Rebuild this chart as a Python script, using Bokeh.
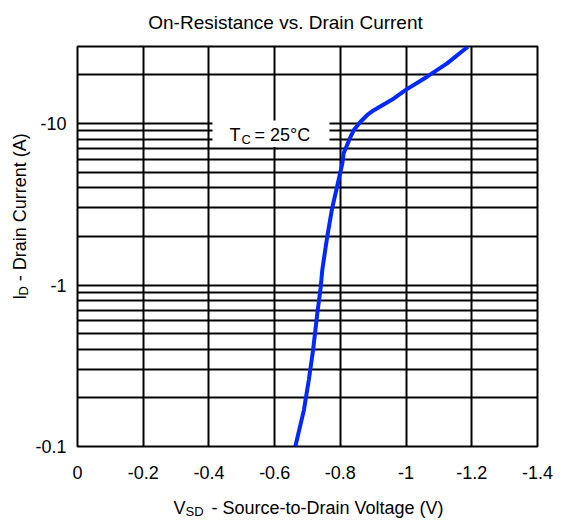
import math
from bokeh.plotting import figure
from bokeh.layouts import column, row
from bokeh.models import (Range1d, FixedTicker, CustomJSTickFormatter, Label,
                          BoxAnnotation, ColumnDataSource)
from bokeh.embed import file_html
from bokeh.resources import INLINE

# ---- data ----
# Source-to-drain voltage (V)
vsd = [-0.663, -0.689, -0.704, -0.717, -0.730, -0.740, -0.745, -0.760, -0.775,
       -0.790, -0.806, -0.810, -0.831, -0.841, -0.862, -0.882, -0.902, -0.963,
       -0.998, -1.064, -1.125, -1.188]
# Drain current magnitude (A); axis labels carry the minus sign
i_d = [0.10, 0.168, 0.258, 0.396, 0.671, 0.958, 1.24, 1.99, 2.99,
       4.06, 5.67, 6.54, 8.28, 9.12, 10.3, 11.3, 12.1, 14.3,
       16.1, 19.5, 23.6, 29.9]

x_ticks = [0, -0.2, -0.4, -0.6, -0.8, -1.0, -1.2, -1.4]
y_major = [0.1, 1, 10]
y_minor = [0.2, 0.3, 0.4, 0.5, 0.6, 0.7, 0.8, 0.9,
           2, 3, 4, 5, 6, 7, 8, 9, 20, 30]

FONT = "Liberation Sans"
W, H = 562, 524
TOP_H = 42          # title strip
MAIN_H = 450        # plot strip
BOT_H = H - TOP_H - MAIN_H
YLAB_W = 31
FL, FR, FT, FB = 77, 537, 46, 446     # frame edges in page pixels
X0, X1 = 0.0, -1.4
Y0, Y1 = 0.1, 30.0
DY = 7              # baseline correction of Label placement


def fx(px):
    return X0 + (px - FL) / (FR - FL) * (X1 - X0)


def fy(py):
    return 10 ** (math.log10(Y0) + (FB - py) / (FB - FT) * (math.log10(Y1) - math.log10(Y0)))


def text_fig(w, h):
    f = figure(width=w, height=h, x_range=Range1d(0, w), y_range=Range1d(h, 0),
               output_backend="svg", toolbar_location=None,
               x_axis_location=None, y_axis_location=None, min_border=0)
    f.grid.visible = False
    f.outline_line_color = None
    f.background_fill_color = "white"
    f.border_fill_color = "white"
    return f


def lab(f, text, x, y, size, align="left", angle=0.0):
    f.add_layout(Label(x=x, y=y, text=text, text_font=FONT, text_font_size=size,
                       text_color="black", text_align=align,
                       text_baseline="alphabetic", angle=angle))


# ---- main plot ----
main_w = W - YLAB_W
p = figure(width=main_w, height=MAIN_H, y_axis_type="log",
           x_range=Range1d(X0, X1), y_range=Range1d(Y0, Y1),
           output_backend="svg", toolbar_location=None,
           min_border_left=FL - YLAB_W, min_border_right=W - FR,
           min_border_top=FT - TOP_H, min_border_bottom=MAIN_H - (FB - TOP_H))
p.background_fill_color = "white"
p.border_fill_color = "white"
p.outline_line_color = "black"
p.outline_line_width = 2

xt = FixedTicker(ticks=x_ticks)
yt = FixedTicker(ticks=y_major, minor_ticks=y_minor)
p.xaxis.ticker = xt
p.xgrid.ticker = xt
p.yaxis.ticker = yt
p.ygrid.ticker = yt

p.xaxis.formatter = CustomJSTickFormatter(
    code="return tick == 0 ? '0' : (Math.round(tick*10)/10).toString();")
p.yaxis.formatter = CustomJSTickFormatter(code="return '-' + tick;")

for ax in (p.xaxis, p.yaxis):
    ax.axis_line_color = None
    ax.major_tick_line_color = None
    ax.minor_tick_line_color = None
    ax.major_tick_out = 0
    ax.major_tick_in = 0
    ax.minor_tick_out = 0
    ax.minor_tick_in = 0
    ax.major_label_text_font = FONT
    ax.major_label_text_font_size = "18px"
    ax.major_label_text_color = "black"
p.xaxis.major_label_standoff = 19
p.yaxis.major_label_standoff = 11

p.xgrid.grid_line_color = "black"
p.xgrid.grid_line_width = 2
p.ygrid.grid_line_color = "black"
p.ygrid.grid_line_width = 2
p.ygrid.minor_grid_line_color = "black"
p.ygrid.minor_grid_line_width = 2

src = ColumnDataSource(dict(v=vsd, i=i_d))
p.line("v", "i", source=src, line_color="#0028ff", line_width=4)

# white box behind the temperature note
p.add_layout(BoxAnnotation(left=fx(212), right=fx(329), top=fy(120), bottom=fy(146.5),
                           fill_color="white", fill_alpha=1.0, line_color=None,
                           level="annotation"))
# temperature note (inside the frame)
for txt, px, py, size in [("T", 229, 141.5, "18px"), ("C", 241, 145.5, "13px"),
                          ("= 25°C", 254, 141.5, "18px")]:
    p.add_layout(Label(x=fx(px), y=fy(py - DY), text=txt, text_font=FONT,
                       text_font_size=size, text_color="black",
                       text_baseline="alphabetic"))

# ---- title strip ----
top = text_fig(W, TOP_H)
lab(top, "On-Resistance vs. Drain Current", 285, 28.5 - DY, "19px", align="center")

# ---- y-axis title strip (rotated text; baseline offset acts along x) ----
yl = text_fig(YLAB_W, MAIN_H)
lab(yl, "I", 26 - DY, 327 - TOP_H, "18px", angle=math.pi / 2)
lab(yl, "D", 30 - DY, 322 - TOP_H, "13px", angle=math.pi / 2)
lab(yl, "- Drain Current (A)", 26 - DY, 306 - TOP_H, "18px", angle=math.pi / 2)

# ---- x-axis title strip ----
y_off = TOP_H + MAIN_H
bot = text_fig(W, BOT_H)
lab(bot, "V", 173, 514 - DY - y_off, "18px")
lab(bot, "SD", 185, 518 - DY - y_off, "13px")
lab(bot, "- Source-to-Drain Voltage (V)", 211, 514 - DY - y_off, "18px")

layout = column(top, row(yl, p), bot)

open("out.html", "w").write(file_html(layout, INLINE))
